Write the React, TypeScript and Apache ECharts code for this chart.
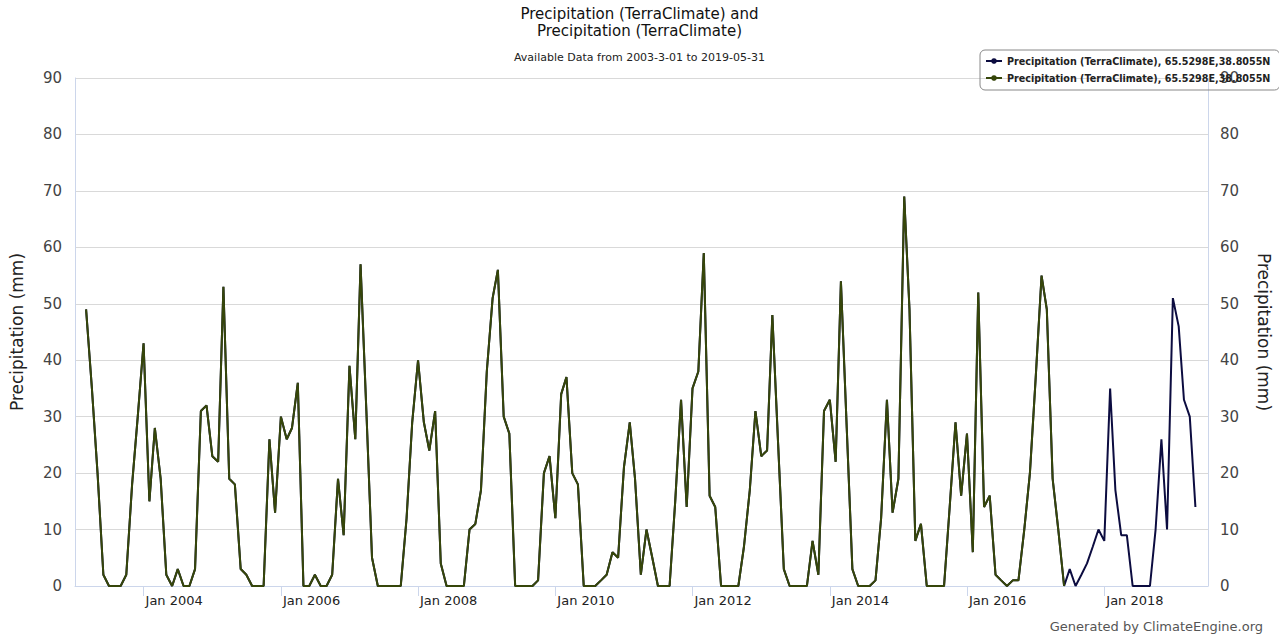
import React, { useEffect, useRef } from "react";
import * as echarts from "echarts";

// Monthly precipitation (mm), first value = March 2003
const p2003 = [49, 35, 20, 2, 0, 0, 0, 2, 18, 30];
const p2004 = [43, 15, 28, 19, 2, 0, 3, 0, 0, 3, 31, 32];
const p2005 = [23, 22, 53, 19, 18, 3, 2, 0, 0, 0, 26, 13];
const p2006 = [30, 26, 28, 36, 0, 0, 2, 0, 0, 2, 19, 9];
const p2007 = [39, 26, 57, 31, 5, 0, 0, 0, 0, 0, 12, 29];
const p2008 = [40, 29, 24, 31, 4, 0, 0, 0, 0, 10, 11, 17];
const p2009 = [38, 51, 56, 30, 27, 0, 0, 0, 0, 1, 20, 23];
const p2010 = [12, 34, 37, 20, 18, 0, 0, 0, 1, 2, 6, 5];
const p2011 = [21, 29, 19, 2, 10, 5, 0, 0, 0, 15, 33, 14];
const p2012 = [35, 38, 59, 16, 14, 0, 0, 0, 0, 7, 17, 31];
const p2013 = [23, 24, 48, 25, 3, 0, 0, 0, 0, 8, 2, 31];
const p2014 = [33, 22, 54, 28, 3, 0, 0, 0, 1, 12, 33, 13];
const p2015 = [19, 69, 49, 8, 11, 0, 0, 0, 0, 14, 29, 16];
const p2016 = [27, 6, 52, 14, 16, 2, 1, 0, 1, 1, 10, 20];
const p2017 = [37, 55, 49, 19, 10, 0, 3, 0, 2, 4, 7, 10];
const p2018 = [8, 35, 17, 9, 9, 0, 0, 0, 0, 10, 26, 10];
const p2019 = [51, 46, 33, 30, 14];

const yearlyValues: number[][] = [
  p2003, p2004, p2005, p2006, p2007, p2008, p2009, p2010, p2011,
  p2012, p2013, p2014, p2015, p2016, p2017, p2018, p2019,
];
const firstYear = 2003;
const firstMonthIndex = 2; // March (0-based)
// second series (olive) stops after June 2017
const oliveLastYear = 2017;
const oliveLastMonthIndex = 5;

const tickYears = [2004, 2006, 2008, 2010, 2012, 2014, 2016, 2018];
const tickLabels = tickYears.map((y) => `Jan ${y}`);

const seriesName = "Precipitation (TerraClimate), 65.5298E,38.8055N";

function buildSeries() {
  const full: [number, number][] = [];
  const olive: [number, number][] = [];
  yearlyValues.forEach((vals, yi) => {
    const year = firstYear + yi;
    const startM = yi === 0 ? firstMonthIndex : 0;
    vals.forEach((v, k) => {
      const m = startM + k;
      const t = Date.UTC(year, m, 1);
      full.push([t, v]);
      if (year < oliveLastYear || (year === oliveLastYear && m <= oliveLastMonthIndex)) {
        olive.push([t, v]);
      }
    });
  });
  return { full, olive };
}

const FONT = "DejaVu Sans";

export default function App() {
  const ref = useRef<HTMLDivElement>(null);
  useEffect(() => {
    document.body.style.margin = "0";
    if (!ref.current) return;
    const chart = echarts.init(ref.current, undefined, { renderer: "svg" });
    const { full, olive } = buildSeries();
    const tickValues = tickYears.map((y) => Date.UTC(y, 0, 1));
    const labelMap: Record<number, string> = {};
    tickValues.forEach((v, i) => (labelMap[v] = tickLabels[i]));

    chart.setOption({
      animation: false,
      backgroundColor: "#ffffff",
      textStyle: { fontFamily: FONT },
      title: {
        text: "Precipitation (TerraClimate) and\nPrecipitation (TerraClimate)",
        subtext: "Available Data from 2003-3-01 to 2019-05-31",
        left: "center",
        top: 0,
        itemGap: 11,
        textStyle: { fontFamily: FONT, fontSize: 15, fontWeight: "normal", color: "#111", lineHeight: 17.5 },
        subtextStyle: { fontFamily: FONT, fontSize: 11, color: "#222", lineHeight: 13 },
      },
      legend: {
        orient: "vertical",
        left: 980,
        top: 50,
        padding: [6, 6, 7, 5],
        itemGap: 7,
        itemWidth: 16,
        itemHeight: 7,
        borderColor: "#888",
        borderWidth: 1,
        borderRadius: 5,
        textStyle: { fontFamily: FONT, fontSize: 9.6, fontWeight: "bold", color: "#222" },
        data: [
          { name: seriesName + " " },
          { name: seriesName },
        ],
      },
      grid: { left: 75, right: 71, top: 78, bottom: 52, containLabel: false, outerBoundsMode: "none" },
      xAxis: {
        type: "value",
        min: Date.UTC(2003, 0, 1),
        max: Date.UTC(2019, 6, 7),
        axisLine: { show: true, lineStyle: { color: "#ccd6eb", width: 1 } },
        axisTick: { show: true, length: 10, lineStyle: { color: "#ccd6eb" }, customValues: tickValues },
        axisLabel: {
          customValues: tickValues,
          formatter: (v: number) => labelMap[v] ?? "",
          align: "left",
          padding: [0, 0, 0, 2],
          margin: 8,
          fontFamily: FONT,
          fontSize: 13,
          color: "#222",
        },
        splitLine: { show: false },
      },
      yAxis: [
        {
          type: "value",
          min: 0,
          max: 90,
          interval: 10,
          position: "left",
          name: "Precipitation (mm)",
          nameLocation: "middle",
          nameGap: 50,
          nameTextStyle: { fontFamily: FONT, fontSize: 17, color: "#222" },
          axisLine: { show: true, lineStyle: { color: "#ccd6eb" } },
          axisTick: { show: false },
          axisLabel: { margin: 13, fontFamily: FONT, fontSize: 15, color: "#444" },
          splitLine: { show: true, lineStyle: { color: "#d9d9d9", width: 1 } },
        },
        {
          type: "value",
          min: 0,
          max: 90,
          interval: 10,
          position: "right",
          name: "Precipitation (mm)",
          nameLocation: "middle",
          nameRotate: -90,
          nameGap: 47,
          nameTextStyle: { fontFamily: FONT, fontSize: 17, color: "#222" },
          axisLine: { show: true, lineStyle: { color: "#ccd6eb" } },
          axisTick: { show: false },
          axisLabel: { margin: 12, fontFamily: FONT, fontSize: 15, color: "#444" },
          splitLine: { show: false },
        },
      ],
      series: [
        {
          name: seriesName + " ",
          type: "line",
          data: full,
          yAxisIndex: 0,
          symbol: "circle",
          showSymbol: false,
          color: "#0c0c40",
          lineStyle: { width: 2, color: "#0c0c40" },
          z: 2,
        },
        {
          name: seriesName,
          type: "line",
          data: olive,
          yAxisIndex: 0,
          symbol: "circle",
          showSymbol: false,
          color: "#36460a",
          lineStyle: { width: 2, color: "#36460a" },
          z: 3,
        },
      ],
      graphic: [
        {
          type: "text",
          right: 16,
          top: 620,
          style: { text: "Generated by ClimateEngine.org", fontFamily: FONT, fontSize: 13, fill: "#555" },
        },
      ],
    });
    return () => chart.dispose();
  }, []);
  return <div ref={ref} style={{ width: 1279, height: 638 }} />;
}
